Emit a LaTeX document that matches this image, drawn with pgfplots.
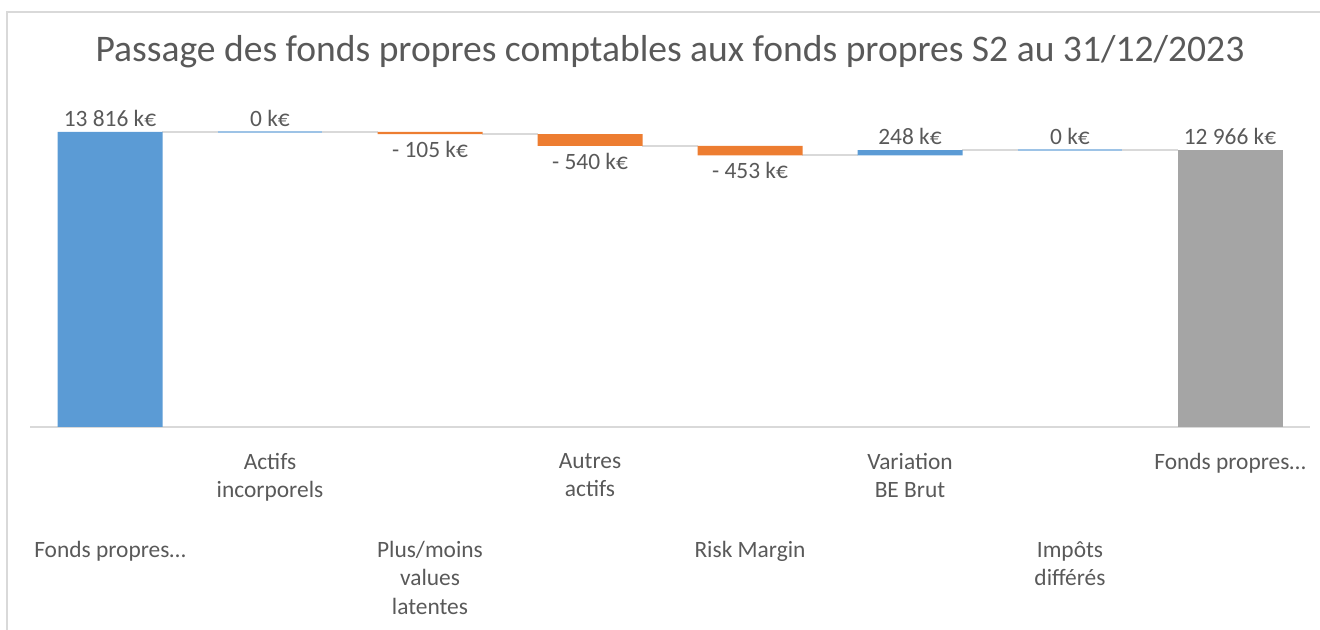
\documentclass[border=0pt]{standalone}
\usepackage{pgfplots}
\pgfplotsset{compat=1.18}
\usepackage{fontspec}
\setmainfont{Carlito}
\definecolor{wfblue}{HTML}{5B9BD5}
\definecolor{wforange}{HTML}{ED7D31}
\definecolor{wfgray}{HTML}{A5A5A5}
\definecolor{wfzero}{HTML}{9DC3E6}
\definecolor{wfline}{HTML}{D9D9D9}
\definecolor{wftext}{HTML}{595959}
\pgfplotsset{
  wf/.style={
    at={(30bp,203bp)}, anchor=south west,
    scale only axis, width=1280bp, height=298.93bp,
    xmin=-0.5, xmax=7.5, ymin=0, ymax=14000,
    clip=false,
  }
}
\begin{document}
\begin{tikzpicture}
\path[use as bounding box] (0bp,0bp) rectangle (1320bp,630bp);
\draw[wfline, line width=1.5bp] (7bp,0bp) -- (7bp,618bp) -- (1320bp,618bp);
\node[anchor=base, text=wftext, font=\fontsize{37.7}{44}\selectfont] at (670bp,568bp) {Passage des fonds propres comptables aux fonds propres S2 au 31/12/2023};

% axis 2: axis line, tick labels, connectors, labels
\begin{axis}[wf,
  axis y line=none,
  axis x line=bottom,
  x axis line style={draw=wfline, line width=2bp, -},
  tick style={draw=none},
  ytick=\empty,
  xtick={1,3,5,7},
  xticklabels={{Actifs\\incorporels},{Autres\\actifs},{Variation\\BE Brut},{Fonds propres…}},
  xticklabel style={align=center, text=wftext, font=\fontsize{23.5}{28.5}\selectfont, anchor=north, inner sep=4bp, yshift=-20bp},
  extra x ticks={0,2,4,6},
  extra x tick labels={{Fonds propres…},{Plus/moins\\values\\latentes},{Risk Margin},{Impôts\\différés}},
  extra x tick style={xticklabel style={yshift=-88bp}},
]
% connectors
\addplot[wfline, line width=2bp, mark=none] coordinates {(0.328,13816)(0.672,13816)};
\addplot[wfline, line width=2bp, mark=none] coordinates {(1.328,13816)(1.672,13816)};
\addplot[wfline, line width=2bp, mark=none] coordinates {(2.328,13711)(2.672,13711)};
\addplot[wfline, line width=2bp, mark=none] coordinates {(3.328,13171)(3.672,13171)};
\addplot[wfline, line width=2bp, mark=none] coordinates {(4.328,12718)(4.672,12718)};
\addplot[wfline, line width=2bp, mark=none] coordinates {(5.328,12966)(5.672,12966)};
\addplot[wfline, line width=2bp, mark=none] coordinates {(6.328,12966)(6.672,12966)};
% zero-height bars
\addplot[wfzero, line width=2bp, mark=none] coordinates {(0.672,13816)(1.328,13816)};
\addplot[wfzero, line width=2bp, mark=none] coordinates {(5.672,12966)(6.328,12966)};
% labels above
\addplot[draw=none, mark=none, nodes near coords, point meta=explicit symbolic,
  nodes near coords style={anchor=south, text=wftext, font=\fontsize{23.5}{28}\selectfont, inner sep=5bp}]
  table[meta=lab, col sep=comma, row sep=\\] {x,y,lab\\0,13816,13 816 k€\\1,13816,0 k€\\5,12966,248 k€\\6,12966,0 k€\\7,12966,12 966 k€\\};
% labels below
\addplot[draw=none, mark=none, nodes near coords, point meta=explicit symbolic,
  nodes near coords style={anchor=north, text=wftext, font=\fontsize{23.5}{28}\selectfont, inner sep=7bp}]
  table[meta=lab, col sep=comma, row sep=\\] {x,y,lab\\2,13711,- 105 k€\\3,13171,- 540 k€\\4,12718,- 453 k€\\};
\end{axis}

% axis 1: waterfall bars
\begin{axis}[wf, hide axis, ybar stacked, bar width=105bp]
\addplot[draw=none, fill=none] coordinates {(0,0)(1,13816)(2,13711)(3,13171)(4,12718)(5,12718)(6,12966)(7,0)};
\addplot[fill=wfblue, draw=none] coordinates {(0,13816)(1,0)(2,0)(3,0)(4,0)(5,248)(6,0)(7,0)};
\addplot[fill=wforange, draw=none] coordinates {(0,0)(1,0)(2,105)(3,540)(4,453)(5,0)(6,0)(7,0)};
\addplot[fill=wfgray, draw=none] coordinates {(0,0)(1,0)(2,0)(3,0)(4,0)(5,0)(6,0)(7,12966)};
\end{axis}
\end{tikzpicture}
\end{document}
